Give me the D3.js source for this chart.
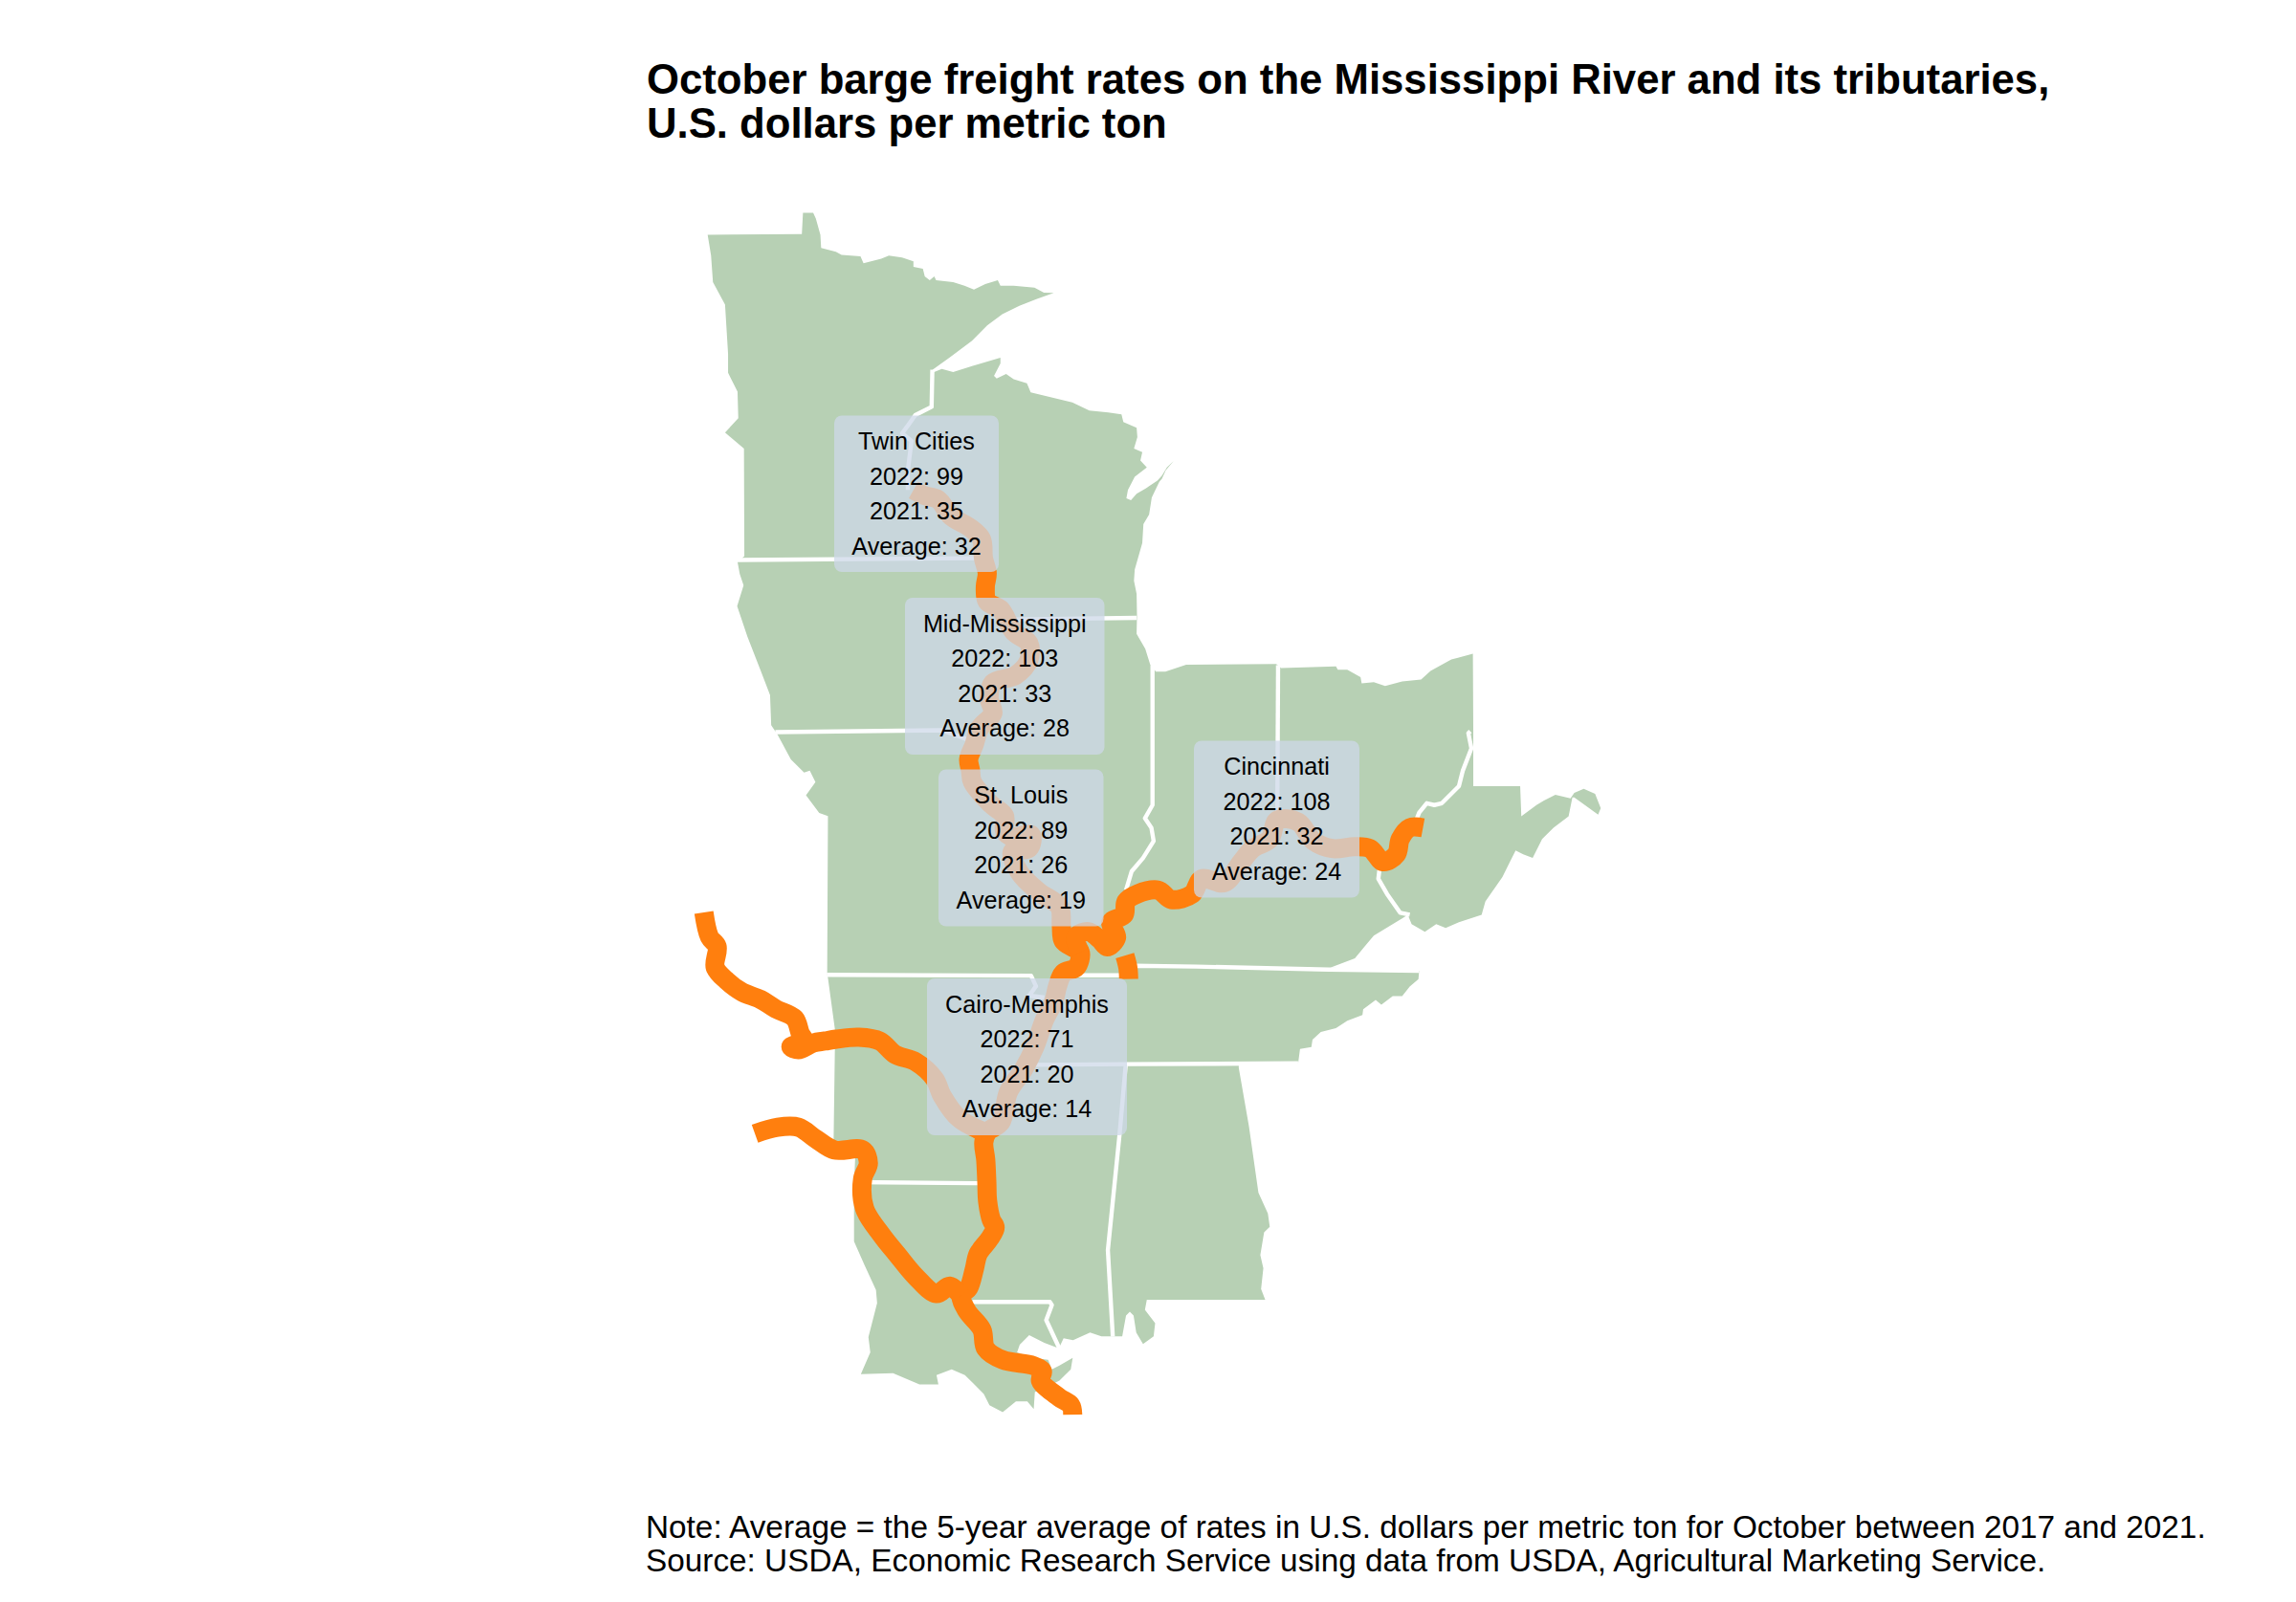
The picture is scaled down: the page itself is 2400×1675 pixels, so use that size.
<!DOCTYPE html>
<html><head><meta charset="utf-8">
<script src="https://cdn.jsdelivr.net/npm/d3@7"></script>
<style>html,body{margin:0;background:#fff}svg{display:block}text{font-family:"Liberation Sans",Arial,sans-serif;fill:#000}</style>
</head><body>
<script>
// Table values
const regions = ["Twin Cities","Mid-Mississippi","St. Louis","Cincinnati","Cairo-Memphis"];
const rates2022 = [99,103,89,108,71];
const rates2021 = [35,33,26,32,20];
const ratesAverage = [32,28,19,24,14];

// Map geometry, in map grid units
const landOutline = [[151,115],[400,113],[403,57],[430,57],[437,72],[449,115],[451,150],[490,160],[505,168],[555,172],[563,190],[610,178],[630,170],[665,175],[695,185],[695,200],[720,205],[725,225],[738,235],[750,225],[755,235],[800,240],[830,250],[855,260],[885,245],[918,235],[925,250],[960,250],[1015,255],[1040,268],[1066,269],[1020,285],[975,303],[930,325],[890,355],[850,395],[790,440],[745,472],[745,480],[770,470],[800,478],[850,462],[925,440],[925,455],[908,488],[915,495],[940,483],[960,497],[995,508],[1005,532],[1060,545],[1115,558],[1160,580],[1210,585],[1245,590],[1250,610],[1285,625],[1287,650],[1278,680],[1300,690],[1295,712],[1312,730],[1280,755],[1262,790],[1258,812],[1270,817],[1285,800],[1310,785],[1340,765],[1352,752],[1365,730],[1383,713],[1362,738],[1352,760],[1345,768],[1325,810],[1318,855],[1303,880],[1300,930],[1280,1000],[1278,1030],[1285,1065],[1286,1122],[1285,1170],[1308,1210],[1321,1252],[1336,1270],[1361,1270],[1416,1252],[1654,1250],[1667,1261],[1812,1256],[1817,1265],[1842,1265],[1877,1285],[1880,1301],[1912,1298],[1942,1308],[1987,1296],[2037,1291],[2062,1268],[2117,1238],[2174,1223],[2175,1423],[2175,1573],[2299,1573],[2302,1653],[2342,1623],[2362,1611],[2392,1596],[2432,1605],[2442,1591],[2467,1580],[2497,1593],[2512,1631],[2505,1648],[2442,1603],[2437,1603],[2427,1653],[2387,1683],[2357,1713],[2332,1763],[2307,1753],[2287,1743],[2272,1773],[2252,1813],[2207,1878],[2197,1913],[2137,1933],[2102,1948],[2077,1938],[2047,1958],[2012,1938],[2002,1913],[1987,1923],[1912,1968],[1887,1998],[1862,2028],[1797,2053],[2032,2061],[2030,2083],[2007,2103],[1987,2128],[1962,2128],[1932,2151],[1917,2138],[1884,2163],[1882,2178],[1842,2193],[1812,2213],[1772,2223],[1750,2243],[1747,2263],[1717,2268],[1712,2306],[1555,2309],[1555,2318],[1582,2473],[1607,2648],[1632,2703],[1637,2738],[1622,2753],[1612,2813],[1620,2848],[1614,2903],[1625,2931],[1312,2931],[1307,2958],[1334,2993],[1330,3028],[1302,3048],[1284,3018],[1277,2973],[1267,2963],[1257,2973],[1247,3028],[1217,3028],[1192,3028],[1162,3018],[1117,3038],[1092,3033],[1080,3058],[1072,3053],[1081,3060],[1041,3045],[1001,3025],[976,3050],[969,3070],[1011,3085],[1051,3090],[1061,3115],[1081,3105],[1116,3085],[1111,3115],[1081,3145],[1051,3160],[1016,3175],[1013,3220],[996,3200],[966,3200],[931,3228],[896,3210],[881,3180],[831,3130],[796,3115],[756,3130],[761,3155],[711,3155],[641,3125],[556,3128],[581,3070],[576,3030],[599,2940],[596,2905],[566,2840],[538,2777],[538,2630],[541,2555],[484,2510],[488,2220],[469,2080],[467,2072],[469,1652],[446,1644],[411,1597],[436,1562],[421,1532],[406,1537],[371,1502],[336,1437],[319,1412],[316,1332],[291,1267],[256,1177],[229,1097],[246,1042],[236,1012],[230,980],[248,965],[247,680],[197,638],[232,600],[230,530],[205,480],[205,430],[197,300],[165,240],[160,170]];

const borderMnWi = [[745,472],[743,570],[700,592],[680,620],[665,640],[690,660],[680,740],[680,790]];
const borderMnIa = [[230,975],[870,970]];
const borderWiIl = [[960,1132],[1285,1128]];
const borderIaMo = [[330,1430],[770,1425],[840,1450]];
const borderIlIn = [[1327,1253],[1327,1623],[1307,1658],[1324,1683],[1330,1718],[1302,1763],[1272,1798],[1257,1848]];
const borderInOh = [[1659,1253],[1657,1653]];
const borderOhWv = [[2167,1428],[2162,1433],[2170,1473],[2147,1533],[2137,1573],[2092,1618],[2072,1623],[2052,1618],[2032,1643],[2022,1668]];
const borderKyWv = [[1927,1793],[1924,1818],[1947,1858],[1982,1908],[2007,1913]];
const borderKyTn = [[1122,2073],[1257,2073],[1277,2048],[1442,2050],[1792,2058],[2032,2061]];
const borderMoAr = [[466,2072],[1006,2074],[1019,2102],[1001,2127],[1041,2132]];
const borderTnSouth = [[1016,2310],[1259,2308],[1712,2306]];
const borderMsAl = [[1256,2312],[1240,2493],[1209,2800],[1222,3028]];
const borderArLa = [[540,2620],[871,2623]];
const borderLaMs = [[851,2937],[1056,2937],[1061,2945],[1046,2985],[1081,3060]];
const stateBorders = [borderMnWi,borderMnIa,borderWiIl,borderIaMo,borderIlIn,borderInOh,borderOhWv,borderKyWv,borderKyTn,borderMoAr,borderTnSouth,borderMsAl,borderArLa,borderLaMs];

const riverMississippi = [[695,790],[725,805],[760,815],[795,860],[845,890],[875,920],[880,970],[890,1010],[885,1045],[890,1085],[925,1105],[960,1165],[1000,1195],[1000,1240],[965,1280],[905,1300],[895,1340],[905,1380],[870,1420],[855,1465],[841,1502],[846,1532],[851,1562],[901,1622],[936,1652],[936,1692],[956,1707],[1006,1702],[1001,1737],[956,1747],[976,1802],[1026,1852],[1081,1892],[1086,1942],[1091,1982],[1121,2002],[1136,2012],[1126,2052],[1091,2067],[1076,2102],[1066,2142],[1041,2192],[1016,2262],[986,2322],[946,2382],[926,2462],[891,2487],[881,2515],[886,2560],[889,2620],[891,2670],[901,2720],[911,2740],[896,2770],[866,2810],[856,2850],[841,2900],[821,2920],[836,2960],[876,3010],[886,3060],[931,3090],[1011,3105],[1036,3120],[1031,3145],[1081,3190],[1111,3210],[1116,3235]];
const riverOhio = [[1136,2012],[1125,1985],[1127,1968],[1157,1958],[1187,1978],[1207,1998],[1232,1973],[1217,1933],[1252,1913],[1257,1878],[1287,1858],[1342,1848],[1377,1873],[1432,1858],[1457,1818],[1517,1828],[1562,1773],[1592,1738],[1637,1713],[1657,1663],[1712,1668],[1752,1718],[1802,1738],[1862,1733],[1902,1738],[1937,1773],[1972,1753],[1982,1713],[2007,1683],[2042,1683]];
const riverTennessee = [[1254,2021],[1262,2053],[1264,2083]];
const riverArkansas = [[141,1907],[156,1972],[176,1997],[171,2052],[201,2087],[241,2117],[291,2137],[331,2162],[381,2187],[396,2227],[406,2247],[371,2262],[391,2270],[431,2252],[461,2247],[491,2242],[551,2237],[606,2247],[646,2282],[701,2302],[751,2347],[771,2392],[816,2452],[881,2487]];
const riverRed = [[276,2492],[336,2475],[391,2475],[436,2505],[486,2535],[561,2535],[576,2570],[561,2610],[566,2690],[611,2760],[651,2810],[701,2870],[756,2915],[791,2895],[821,2920]];
const rivers = [riverMississippi,riverOhio,riverTennessee,riverArkansas,riverRed];

const titleLines = ["October barge freight rates on the Mississippi River and its tributaries,","U.S. dollars per metric ton"];
const noteLines = ["Note: Average = the 5-year average of rates in U.S. dollars per metric ton for October between 2017 and 2021.","Source: USDA, Economic Research Service using data from USDA, Agricultural Marketing Service."];

// Layout
const W = 2400, H = 1675;
const boxes = [{x:872,y:434.5,w:172,h:163.5},{x:946,y:625,w:208.5,h:164},{x:981,y:804.5,w:172.5,h:164},{x:1248,y:774.5,w:173,h:164},{x:969,y:1023,w:209,h:164}];

const svg = d3.select("body").append("svg").attr("width",W).attr("height",H).attr("viewBox",[0,0,W,H]);
const x = d3.scaleLinear().domain([0,1568]).range([680,1300]);
const y = d3.scaleLinear().domain([0,1568]).range([200,820]);
const line = d3.line().x(d=>x(d[0])).y(d=>y(d[1]));
const riverLine = d3.line().x(d=>x(d[0])).y(d=>y(d[1])).curve(d3.curveCatmullRom.alpha(0.5));

svg.append("path").attr("d",line(landOutline)+"Z").attr("fill","#b7d0b4");
svg.append("g").selectAll("path").data(stateBorders).join("path").attr("d",line)
  .attr("fill","none").attr("stroke","#fff").attr("stroke-width",4.4).attr("stroke-linejoin","round");
svg.append("g").selectAll("path").data(rivers).join("path").attr("d",riverLine)
  .attr("fill","none").attr("stroke","#ff7f0e").attr("stroke-width",20).attr("stroke-linejoin","round").attr("stroke-linecap","butt");

const box = svg.append("g").selectAll("g").data(regions).join("g")
  .attr("transform",(d,i)=>`translate(${boxes[i].x},${boxes[i].y})`);
box.append("rect").attr("width",(d,i)=>boxes[i].w).attr("height",(d,i)=>boxes[i].h)
  .attr("rx",8).attr("fill","rgb(205,216,232)").attr("fill-opacity",0.75);
box.each(function(d,i){
  const rows=[d,`2022: ${rates2022[i]}`,`2021: ${rates2021[i]}`,`Average: ${ratesAverage[i]}`];
  d3.select(this).selectAll("text").data(rows).join("text")
    .attr("x",boxes[i].w/2).attr("y",(r,j)=>35.6+j*36.6)
    .attr("text-anchor","middle").attr("font-size",25.2).text(r=>r);
});

svg.append("g").selectAll("text").data(titleLines).join("text")
  .attr("x",676).attr("y",(d,i)=>97.5+i*46.5).attr("font-size",43.7).attr("font-weight","bold").text(d=>d);
svg.append("g").selectAll("text").data(noteLines).join("text")
  .attr("x",675).attr("y",(d,i)=>1608+i*35).attr("font-size",33.35).text(d=>d);
</script>
</body></html>
